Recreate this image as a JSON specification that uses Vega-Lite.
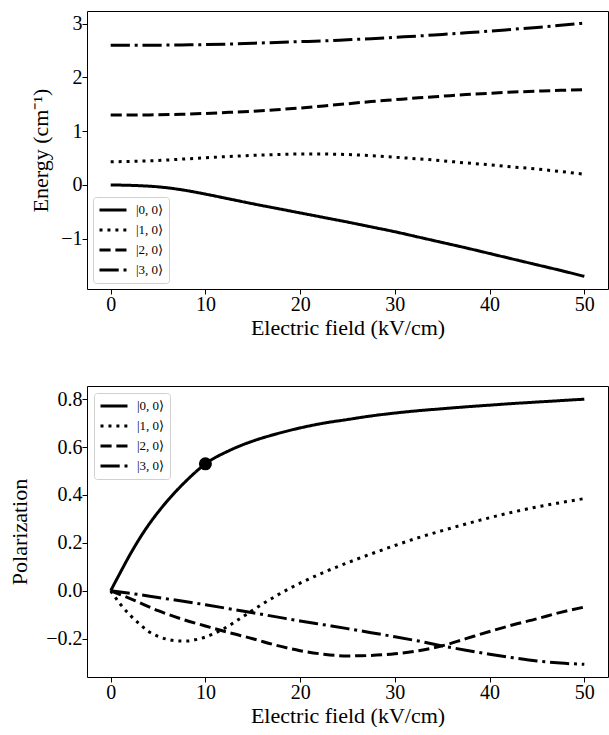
{
  "$schema": "https://vega.github.io/schema/vega-lite/v6.json",
  "padding": {"left": 8, "top": 10, "right": 0, "bottom": 0},
  "spacing": 46,
  "config": {
    "font": "Liberation Serif",
    "view": {"stroke": "black", "strokeWidth": 1},
    "axis": {
      "grid": false, "domain": false, "tickColor": "black", "tickSize": 5,
      "labelColor": "black", "labelFontSize": 20, "labelPadding": 0,
      "labelFont": "Liberation Serif", "titleFont": "Liberation Serif",
      "titleFontSize": 22, "titleFontWeight": "normal", "titleColor": "black",
      "labelFlush": false, "labelOverlap": false
    },
    "legend": {
      "title": null, "fillColor": "white", "strokeColor": "#d0d0d0", "cornerRadius": 3,
      "padding": 5, "symbolType": "stroke", "symbolStrokeWidth": 3, "symbolStrokeColor": "black",
      "symbolSize": 729, "clipHeight": 16, "labelFontSize": 13, "labelFont": "Liberation Serif", "labelColor": "black",
      "rowPadding": 4, "labelOffset": 8
    }
  },
  "datasets": {
    "energy": [
      {"E": 0, "V": 0.0, "state": "|0, 0⟩"}, {"E": 2.5, "V": -0.01, "state": "|0, 0⟩"}, {"E": 5, "V": -0.035, "state": "|0, 0⟩"}, {"E": 7.5, "V": -0.09, "state": "|0, 0⟩"}, {"E": 10, "V": -0.17, "state": "|0, 0⟩"}, {"E": 12.5, "V": -0.26, "state": "|0, 0⟩"}, {"E": 15, "V": -0.35, "state": "|0, 0⟩"}, {"E": 17.5, "V": -0.435, "state": "|0, 0⟩"}, {"E": 20, "V": -0.52, "state": "|0, 0⟩"}, {"E": 22.5, "V": -0.605, "state": "|0, 0⟩"}, {"E": 25, "V": -0.69, "state": "|0, 0⟩"}, {"E": 27.5, "V": -0.78, "state": "|0, 0⟩"}, {"E": 30, "V": -0.87, "state": "|0, 0⟩"}, {"E": 32.5, "V": -0.97, "state": "|0, 0⟩"}, {"E": 35, "V": -1.07, "state": "|0, 0⟩"}, {"E": 37.5, "V": -1.17, "state": "|0, 0⟩"}, {"E": 40, "V": -1.275, "state": "|0, 0⟩"}, {"E": 42.5, "V": -1.38, "state": "|0, 0⟩"}, {"E": 45, "V": -1.485, "state": "|0, 0⟩"}, {"E": 47.5, "V": -1.59, "state": "|0, 0⟩"}, {"E": 50, "V": -1.70, "state": "|0, 0⟩"},
      {"E": 0, "V": 0.43, "state": "|1, 0⟩"}, {"E": 2.5, "V": 0.44, "state": "|1, 0⟩"}, {"E": 5, "V": 0.455, "state": "|1, 0⟩"}, {"E": 7.5, "V": 0.48, "state": "|1, 0⟩"}, {"E": 10, "V": 0.505, "state": "|1, 0⟩"}, {"E": 12.5, "V": 0.53, "state": "|1, 0⟩"}, {"E": 15, "V": 0.55, "state": "|1, 0⟩"}, {"E": 17.5, "V": 0.565, "state": "|1, 0⟩"}, {"E": 20, "V": 0.575, "state": "|1, 0⟩"}, {"E": 22.5, "V": 0.575, "state": "|1, 0⟩"}, {"E": 25, "V": 0.565, "state": "|1, 0⟩"}, {"E": 27.5, "V": 0.545, "state": "|1, 0⟩"}, {"E": 30, "V": 0.515, "state": "|1, 0⟩"}, {"E": 32.5, "V": 0.485, "state": "|1, 0⟩"}, {"E": 35, "V": 0.45, "state": "|1, 0⟩"}, {"E": 37.5, "V": 0.41, "state": "|1, 0⟩"}, {"E": 40, "V": 0.375, "state": "|1, 0⟩"}, {"E": 42.5, "V": 0.335, "state": "|1, 0⟩"}, {"E": 45, "V": 0.295, "state": "|1, 0⟩"}, {"E": 47.5, "V": 0.25, "state": "|1, 0⟩"}, {"E": 50, "V": 0.20, "state": "|1, 0⟩"},
      {"E": 0, "V": 1.30, "state": "|2, 0⟩"}, {"E": 2.5, "V": 1.30, "state": "|2, 0⟩"}, {"E": 5, "V": 1.305, "state": "|2, 0⟩"}, {"E": 7.5, "V": 1.315, "state": "|2, 0⟩"}, {"E": 10, "V": 1.33, "state": "|2, 0⟩"}, {"E": 12.5, "V": 1.35, "state": "|2, 0⟩"}, {"E": 15, "V": 1.37, "state": "|2, 0⟩"}, {"E": 17.5, "V": 1.40, "state": "|2, 0⟩"}, {"E": 20, "V": 1.43, "state": "|2, 0⟩"}, {"E": 22.5, "V": 1.47, "state": "|2, 0⟩"}, {"E": 25, "V": 1.51, "state": "|2, 0⟩"}, {"E": 27.5, "V": 1.55, "state": "|2, 0⟩"}, {"E": 30, "V": 1.585, "state": "|2, 0⟩"}, {"E": 32.5, "V": 1.62, "state": "|2, 0⟩"}, {"E": 35, "V": 1.65, "state": "|2, 0⟩"}, {"E": 37.5, "V": 1.68, "state": "|2, 0⟩"}, {"E": 40, "V": 1.705, "state": "|2, 0⟩"}, {"E": 42.5, "V": 1.727, "state": "|2, 0⟩"}, {"E": 45, "V": 1.745, "state": "|2, 0⟩"}, {"E": 47.5, "V": 1.76, "state": "|2, 0⟩"}, {"E": 50, "V": 1.77, "state": "|2, 0⟩"},
      {"E": 0, "V": 2.60, "state": "|3, 0⟩"}, {"E": 2.5, "V": 2.60, "state": "|3, 0⟩"}, {"E": 5, "V": 2.60, "state": "|3, 0⟩"}, {"E": 7.5, "V": 2.605, "state": "|3, 0⟩"}, {"E": 10, "V": 2.61, "state": "|3, 0⟩"}, {"E": 12.5, "V": 2.62, "state": "|3, 0⟩"}, {"E": 15, "V": 2.635, "state": "|3, 0⟩"}, {"E": 17.5, "V": 2.65, "state": "|3, 0⟩"}, {"E": 20, "V": 2.665, "state": "|3, 0⟩"}, {"E": 22.5, "V": 2.68, "state": "|3, 0⟩"}, {"E": 25, "V": 2.70, "state": "|3, 0⟩"}, {"E": 27.5, "V": 2.72, "state": "|3, 0⟩"}, {"E": 30, "V": 2.745, "state": "|3, 0⟩"}, {"E": 32.5, "V": 2.77, "state": "|3, 0⟩"}, {"E": 35, "V": 2.80, "state": "|3, 0⟩"}, {"E": 37.5, "V": 2.83, "state": "|3, 0⟩"}, {"E": 40, "V": 2.86, "state": "|3, 0⟩"}, {"E": 42.5, "V": 2.895, "state": "|3, 0⟩"}, {"E": 45, "V": 2.93, "state": "|3, 0⟩"}, {"E": 47.5, "V": 2.97, "state": "|3, 0⟩"}, {"E": 50, "V": 3.01, "state": "|3, 0⟩"}
    ],
    "polarization": [
      {"E": 0, "P": 0.0, "state": "|0, 0⟩"}, {"E": 1, "P": 0.075, "state": "|0, 0⟩"}, {"E": 2, "P": 0.148, "state": "|0, 0⟩"}, {"E": 3, "P": 0.215, "state": "|0, 0⟩"}, {"E": 4, "P": 0.275, "state": "|0, 0⟩"}, {"E": 5, "P": 0.328, "state": "|0, 0⟩"}, {"E": 6, "P": 0.376, "state": "|0, 0⟩"}, {"E": 7, "P": 0.42, "state": "|0, 0⟩"}, {"E": 8, "P": 0.46, "state": "|0, 0⟩"}, {"E": 9, "P": 0.497, "state": "|0, 0⟩"}, {"E": 10, "P": 0.53, "state": "|0, 0⟩"}, {"E": 12.5, "P": 0.585, "state": "|0, 0⟩"}, {"E": 15, "P": 0.625, "state": "|0, 0⟩"}, {"E": 17.5, "P": 0.655, "state": "|0, 0⟩"}, {"E": 20, "P": 0.68, "state": "|0, 0⟩"}, {"E": 22.5, "P": 0.70, "state": "|0, 0⟩"}, {"E": 25, "P": 0.715, "state": "|0, 0⟩"}, {"E": 27.5, "P": 0.73, "state": "|0, 0⟩"}, {"E": 30, "P": 0.742, "state": "|0, 0⟩"}, {"E": 32.5, "P": 0.752, "state": "|0, 0⟩"}, {"E": 35, "P": 0.76, "state": "|0, 0⟩"}, {"E": 37.5, "P": 0.768, "state": "|0, 0⟩"}, {"E": 40, "P": 0.775, "state": "|0, 0⟩"}, {"E": 42.5, "P": 0.782, "state": "|0, 0⟩"}, {"E": 45, "P": 0.788, "state": "|0, 0⟩"}, {"E": 47.5, "P": 0.794, "state": "|0, 0⟩"}, {"E": 50, "P": 0.80, "state": "|0, 0⟩"},
      {"E": 0, "P": 0.0, "state": "|1, 0⟩"}, {"E": 1, "P": -0.055, "state": "|1, 0⟩"}, {"E": 2, "P": -0.10, "state": "|1, 0⟩"}, {"E": 3, "P": -0.137, "state": "|1, 0⟩"}, {"E": 4, "P": -0.17, "state": "|1, 0⟩"}, {"E": 5, "P": -0.19, "state": "|1, 0⟩"}, {"E": 6, "P": -0.203, "state": "|1, 0⟩"}, {"E": 7, "P": -0.209, "state": "|1, 0⟩"}, {"E": 8, "P": -0.21, "state": "|1, 0⟩"}, {"E": 9, "P": -0.204, "state": "|1, 0⟩"}, {"E": 10, "P": -0.193, "state": "|1, 0⟩"}, {"E": 11, "P": -0.177, "state": "|1, 0⟩"}, {"E": 12, "P": -0.157, "state": "|1, 0⟩"}, {"E": 13, "P": -0.133, "state": "|1, 0⟩"}, {"E": 14, "P": -0.107, "state": "|1, 0⟩"}, {"E": 15, "P": -0.081, "state": "|1, 0⟩"}, {"E": 16, "P": -0.056, "state": "|1, 0⟩"}, {"E": 17, "P": -0.032, "state": "|1, 0⟩"}, {"E": 18, "P": -0.009, "state": "|1, 0⟩"}, {"E": 19, "P": 0.012, "state": "|1, 0⟩"}, {"E": 20, "P": 0.032, "state": "|1, 0⟩"}, {"E": 22.5, "P": 0.077, "state": "|1, 0⟩"}, {"E": 25, "P": 0.117, "state": "|1, 0⟩"}, {"E": 27.5, "P": 0.154, "state": "|1, 0⟩"}, {"E": 30, "P": 0.189, "state": "|1, 0⟩"}, {"E": 32.5, "P": 0.222, "state": "|1, 0⟩"}, {"E": 35, "P": 0.251, "state": "|1, 0⟩"}, {"E": 37.5, "P": 0.279, "state": "|1, 0⟩"}, {"E": 40, "P": 0.305, "state": "|1, 0⟩"}, {"E": 42.5, "P": 0.329, "state": "|1, 0⟩"}, {"E": 45, "P": 0.35, "state": "|1, 0⟩"}, {"E": 47.5, "P": 0.368, "state": "|1, 0⟩"}, {"E": 50, "P": 0.385, "state": "|1, 0⟩"},
      {"E": 0, "P": 0.0, "state": "|2, 0⟩"}, {"E": 2.5, "P": -0.04, "state": "|2, 0⟩"}, {"E": 5, "P": -0.083, "state": "|2, 0⟩"}, {"E": 7.5, "P": -0.118, "state": "|2, 0⟩"}, {"E": 10, "P": -0.147, "state": "|2, 0⟩"}, {"E": 12.5, "P": -0.175, "state": "|2, 0⟩"}, {"E": 15, "P": -0.20, "state": "|2, 0⟩"}, {"E": 17.5, "P": -0.228, "state": "|2, 0⟩"}, {"E": 20, "P": -0.25, "state": "|2, 0⟩"}, {"E": 22.5, "P": -0.265, "state": "|2, 0⟩"}, {"E": 25, "P": -0.272, "state": "|2, 0⟩"}, {"E": 27.5, "P": -0.27, "state": "|2, 0⟩"}, {"E": 30, "P": -0.263, "state": "|2, 0⟩"}, {"E": 32.5, "P": -0.25, "state": "|2, 0⟩"}, {"E": 35, "P": -0.23, "state": "|2, 0⟩"}, {"E": 37.5, "P": -0.20, "state": "|2, 0⟩"}, {"E": 40, "P": -0.17, "state": "|2, 0⟩"}, {"E": 42.5, "P": -0.142, "state": "|2, 0⟩"}, {"E": 45, "P": -0.117, "state": "|2, 0⟩"}, {"E": 47.5, "P": -0.09, "state": "|2, 0⟩"}, {"E": 50, "P": -0.068, "state": "|2, 0⟩"},
      {"E": 0, "P": 0.0, "state": "|3, 0⟩"}, {"E": 2.5, "P": -0.013, "state": "|3, 0⟩"}, {"E": 5, "P": -0.028, "state": "|3, 0⟩"}, {"E": 7.5, "P": -0.043, "state": "|3, 0⟩"}, {"E": 10, "P": -0.058, "state": "|3, 0⟩"}, {"E": 12.5, "P": -0.075, "state": "|3, 0⟩"}, {"E": 15, "P": -0.092, "state": "|3, 0⟩"}, {"E": 17.5, "P": -0.109, "state": "|3, 0⟩"}, {"E": 20, "P": -0.126, "state": "|3, 0⟩"}, {"E": 22.5, "P": -0.142, "state": "|3, 0⟩"}, {"E": 25, "P": -0.158, "state": "|3, 0⟩"}, {"E": 27.5, "P": -0.175, "state": "|3, 0⟩"}, {"E": 30, "P": -0.192, "state": "|3, 0⟩"}, {"E": 32.5, "P": -0.21, "state": "|3, 0⟩"}, {"E": 35, "P": -0.23, "state": "|3, 0⟩"}, {"E": 37.5, "P": -0.248, "state": "|3, 0⟩"}, {"E": 40, "P": -0.265, "state": "|3, 0⟩"}, {"E": 42.5, "P": -0.28, "state": "|3, 0⟩"}, {"E": 45, "P": -0.293, "state": "|3, 0⟩"}, {"E": 47.5, "P": -0.302, "state": "|3, 0⟩"}, {"E": 50, "P": -0.307, "state": "|3, 0⟩"}
    ],
    "marker": [{"E": 10, "P": 0.53}]
  },
  "vconcat": [
    {
      "width": 521, "height": 278,
      "data": {"name": "energy"},
      "mark": {"type": "line", "color": "black", "strokeWidth": 3, "interpolate": "monotone", "strokeCap": "butt"},
      "encoding": {
        "x": {"field": "E", "type": "quantitative", "scale": {"domain": [-2.5, 52.5], "nice": false, "zero": false}, "axis": {"values": [0, 10, 20, 30, 40, 50], "title": "Electric field (kV/cm)", "titlePadding": 3}},
        "y": {"field": "V", "type": "quantitative", "scale": {"domain": [-1.935, 3.235], "nice": false, "zero": false}, "axis": {"values": [-1, 0, 1, 2, 3], "title": "Energy (cm⁻¹)", "titlePadding": 8}},
        "strokeDash": {"field": "state", "type": "nominal", "scale": {"domain": ["|0, 0⟩", "|1, 0⟩", "|2, 0⟩", "|3, 0⟩"], "range": [[1, 0], [3, 4.95], [11.1, 4.8], [19.2, 4.8, 3, 4.8]]}, "legend": {"orient": "bottom-left", "offset": 6}}
      }
    },
    {
      "width": 521, "height": 291,
      "layer": [
        {
          "data": {"name": "polarization"},
          "mark": {"type": "line", "color": "black", "strokeWidth": 3, "interpolate": "monotone", "strokeCap": "butt"},
          "encoding": {
            "x": {"field": "E", "type": "quantitative", "scale": {"domain": [-2.5, 52.5], "nice": false, "zero": false}, "axis": {"values": [0, 10, 20, 30, 40, 50], "title": "Electric field (kV/cm)", "titlePadding": 3}},
            "y": {"field": "P", "type": "quantitative", "scale": {"domain": [-0.36, 0.855], "nice": false, "zero": false}, "axis": {"values": [-0.2, 0, 0.2, 0.4, 0.6, 0.8], "format": ".1f", "title": "Polarization", "titlePadding": 14}},
            "strokeDash": {"field": "state", "type": "nominal", "scale": {"domain": ["|0, 0⟩", "|1, 0⟩", "|2, 0⟩", "|3, 0⟩"], "range": [[1, 0], [3, 4.95], [11.1, 4.8], [19.2, 4.8, 3, 4.8]]}, "legend": {"orient": "top-left", "offset": 7}}
          }
        },
        {
          "data": {"name": "marker"},
          "mark": {"type": "point", "filled": true, "color": "black", "opacity": 1, "size": 170},
          "encoding": {
            "x": {"field": "E", "type": "quantitative"},
            "y": {"field": "P", "type": "quantitative"}
          }
        }
      ]
    }
  ]
}
